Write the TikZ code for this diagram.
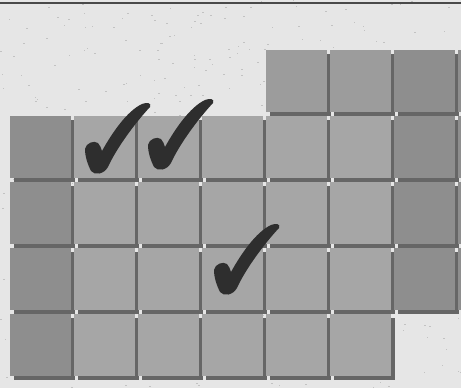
\documentclass[tikz,border=0pt]{standalone}
\definecolor{bgcol}{HTML}{E6E6E6}
\definecolor{speckcol}{HTML}{C2C2C2}
\definecolor{framecol}{HTML}{4A4A4A}
\definecolor{shadowcol}{HTML}{666666}
\definecolor{sqlight}{HTML}{A6A6A6}
\definecolor{sqmid}{HTML}{9C9C9C}
\definecolor{sqdark}{HTML}{8E8E8E}
\definecolor{checkcol}{HTML}{2E2E2E}
\tikzset{
  tick/.pic={
    \fill[checkcol] (0,46) .. controls (1,40) and (9,37) .. (13,40)
      .. controls (15,42) and (16,45) .. (17,48)
      .. controls (27,30) and (42,8) .. (57,1)
      .. controls (62,-1) and (67,0) .. (65,4)
      .. controls (50,20) and (31,46) .. (23,64)
      .. controls (19,71) and (10,73) .. (6,68)
      .. controls (3,62) and (0,54) .. (0,46) -- cycle;
  },
  speck/.style={fill=speckcol},
}
\begin{document}
\begin{tikzpicture}[x=1pt,y=-1pt]
\useasboundingbox (0,0) rectangle (461,388);
\clip (0,0) rectangle (461,388);
\fill[bgcol] (0,0) rectangle (461,388);
\pgfmathsetseed{7}
\foreach \i in {1,...,550}{
  \pgfmathsetmacro{\px}{rnd*461}
  \pgfmathsetmacro{\py}{rnd*388}
  \fill[speck] (\px,\py) rectangle ++(1.6,0.9);
}
\draw[framecol, line width=2pt] (0,3) -- (461,3);
% shadows
\foreach \c/\r/\k in {4/-1/sqmid,5/-1/sqmid,6/-1/sqdark,7/-1/sqdark,
  0/0/sqdark,1/0/sqlight,2/0/sqlight,3/0/sqlight,4/0/sqlight,5/0/sqlight,6/0/sqdark,7/0/sqdark,
  0/1/sqdark,1/1/sqlight,2/1/sqlight,3/1/sqlight,4/1/sqlight,5/1/sqlight,6/1/sqdark,7/1/sqdark,
  0/2/sqdark,1/2/sqlight,2/2/sqlight,3/2/sqlight,4/2/sqlight,5/2/sqlight,6/2/sqdark,7/2/sqdark,
  0/3/sqdark,1/3/sqlight,2/3/sqlight,3/3/sqlight,4/3/sqlight,5/3/sqlight}{
  \fill[shadowcol] ({10+64*\c+4},{116+66*(\r)+4}) rectangle ++(61,62);
}
% squares
\foreach \c/\r/\k in {4/-1/sqmid,5/-1/sqmid,6/-1/sqdark,7/-1/sqdark,
  0/0/sqdark,1/0/sqlight,2/0/sqlight,3/0/sqlight,4/0/sqlight,5/0/sqlight,6/0/sqdark,7/0/sqdark,
  0/1/sqdark,1/1/sqlight,2/1/sqlight,3/1/sqlight,4/1/sqlight,5/1/sqlight,6/1/sqdark,7/1/sqdark,
  0/2/sqdark,1/2/sqlight,2/2/sqlight,3/2/sqlight,4/2/sqlight,5/2/sqlight,6/2/sqdark,7/2/sqdark,
  0/3/sqdark,1/3/sqlight,2/3/sqlight,3/3/sqlight,4/3/sqlight,5/3/sqlight}{
  \fill[\k] ({10+64*\c},{116+66*(\r)}) rectangle ++(61,62);
}
% checkmarks
\pic (c1) at (85,103) {tick};
\pic (c2) at (148,99) {tick};
\pic (c3) at (214,224) {tick};
\end{tikzpicture}
\end{document}
